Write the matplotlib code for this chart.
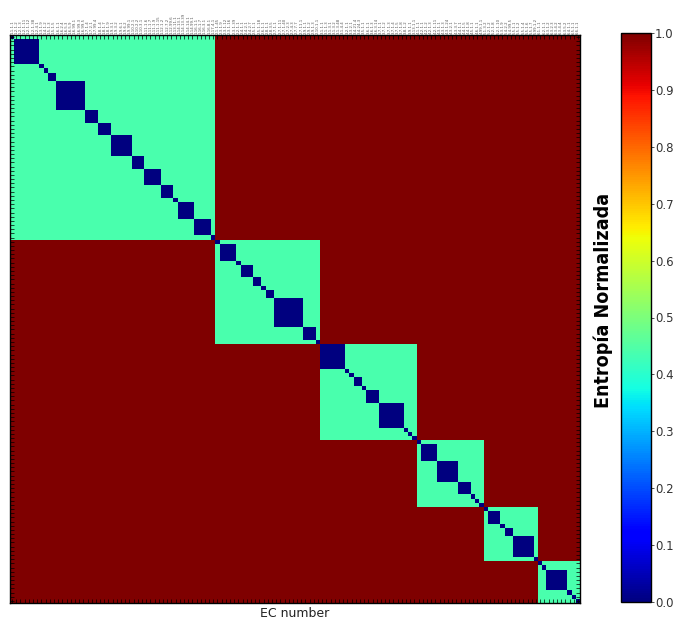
import numpy as np
import matplotlib
matplotlib.use("Agg")
import matplotlib.pyplot as plt

# EC numbers, grouped by main class (order along both axes)
ec_class1 = ["1.1.1.1",
             "1.2.1.2", "1.2.1.3", "1.2.1.11", "1.2.1.12", "1.2.1.38", "1.2.4.1",
             "1.3.1.9",
             "1.4.1.2",
             "1.5.1.3", "1.5.1.5",
             "1.6.1.1", "1.6.2.4", "1.6.5.3", "1.6.5.9", "1.6.99.1", "1.6.99.3", "1.6.99.5",
             "1.7.1.4", "1.7.2.1", "1.7.99.4",
             "1.8.1.4", "1.8.1.7", "1.8.1.9",
             "1.9.3.1", "1.9.3.2", "1.9.6.1", "1.9.6.2", "1.9.99.1",
             "1.10.2.1", "1.10.2.2", "1.10.3.1",
             "1.11.1.6", "1.11.1.7", "1.11.1.9", "1.11.1.15",
             "1.12.1.2", "1.12.7.2", "1.12.99.6",
             "1.13.11.1",
             "1.14.13.1", "1.14.13.39", "1.14.14.1", "1.14.99.1",
             "1.16.1.1", "1.16.1.7", "1.16.3.1", "1.16.8.1",
             "1.17.4.1"]
ec_class2 = ["2.1.1.45",
             "2.3.1.9", "2.3.1.12", "2.3.1.16", "2.3.1.39",
             "2.2.1.1",
             "2.4.1.1", "2.4.2.1", "2.4.2.7",
             "2.5.1.1", "2.5.1.18",
             "2.6.1.1",
             "2.8.1.1", "2.8.3.5",
             "2.7.1.1", "2.7.1.11", "2.7.1.40", "2.7.2.3", "2.7.4.3", "2.7.7.7", "2.7.11.1",
             "2.9.1.1", "2.9.1.2", "2.9.1.3",
             "2.10.1.1"]
ec_class3 = ["3.1.1.1", "3.1.1.3", "3.1.3.1", "3.1.3.2", "3.1.3.48", "3.1.4.4",
             "3.2.1.1",
             "3.3.2.1",
             "3.4.21.4", "3.4.24.3",
             "3.5.1.1",
             "3.6.1.1", "3.6.1.3", "3.6.3.14",
             "3.7.1.1", "3.7.1.2", "3.7.1.3", "3.7.1.4", "3.7.1.5", "3.7.1.8",
             "3.8.1.2",
             "3.9.1.1",
             "3.13.1.1"]
ec_class4 = ["4.1.1.1",
             "4.2.1.1", "4.2.1.2", "4.2.1.3", "4.2.1.11",
             "4.3.1.1", "4.3.1.3", "4.3.1.24", "4.3.2.1", "4.3.3.7",
             "4.4.1.1", "4.4.1.5", "4.4.1.8",
             "4.5.1.1",
             "4.6.1.1",
             "4.99.1.1"]
ec_class5 = ["5.1.3.2",
             "5.2.1.2", "5.2.1.8", "5.2.1.10",
             "5.3.1.9",
             "5.4.2.2", "5.4.99.5",
             "5.5.1.1", "5.5.1.2", "5.5.1.4", "5.5.1.6", "5.5.1.7",
             "5.99.1.2"]
ec_class6 = ["6.1.1.1",
             "6.2.1.1",
             "6.3.1.2", "6.3.2.3", "6.3.4.2", "6.3.4.4", "6.3.5.2",
             "6.4.1.1",
             "6.5.1.1",
             "6.6.1.1"]

# normalized entropy levels
entropy_same_subclass = 0.0
entropy_same_class = 0.44
entropy_other_class = 1.0

ec_numbers = ec_class1 + ec_class2 + ec_class3 + ec_class4 + ec_class5 + ec_class6
n = len(ec_numbers)
main_class = [ec.split(".")[0] for ec in ec_numbers]
sub_class = [".".join(ec.split(".")[:2]) for ec in ec_numbers]

matrix = np.full((n, n), entropy_other_class)
for i in range(n):
    for j in range(n):
        if sub_class[i] == sub_class[j]:
            matrix[i, j] = entropy_same_subclass
        elif main_class[i] == main_class[j]:
            matrix[i, j] = entropy_same_class

W, H = 676, 620
fig = plt.figure(figsize=(W / 100, H / 100), dpi=100)

ax = fig.add_axes([10 / W, 1 - 603 / H, 570 / W, 568 / H])
im = ax.imshow(matrix, cmap="jet", vmin=0, vmax=1, aspect="auto",
               interpolation="nearest")

ax.set_xticks(np.arange(n))
ax.set_yticks(np.arange(n))
ax.set_xticklabels(ec_numbers, rotation=90, fontsize=2.8, color="#555555")
ax.set_yticklabels([])
ax.tick_params(axis="both", which="major", direction="in", length=3, width=0.5,
               top=True, bottom=True, left=True, right=True,
               labeltop=True, labelbottom=False, labelleft=False,
               pad=1, color="black")
for sp in ax.spines.values():
    sp.set_linewidth(1.0)
    sp.set_color("black")
ax.set_xlabel("EC number", fontsize=9, labelpad=3, color="#222222")

cax = fig.add_axes([621 / W, 1 - 602 / H, 30 / W, 569 / H])
cbar = fig.colorbar(im, cax=cax)
cbar.set_ticks(np.linspace(0, 1, 11))
cbar.ax.set_yticklabels([f"{v:.1f}" for v in np.linspace(0, 1, 11)])
cbar.ax.tick_params(labelsize=8.5, length=2, width=0.6, colors="#333333", pad=1)
cbar.outline.set_linewidth(1.0)
cbar.outline.set_edgecolor("black")
cbar.ax.yaxis.set_label_position("left")
cbar.set_label("Entropía Normalizada", fontsize=14, fontweight="bold",
               family=["DejaVu Sans"], fontstretch="condensed")
cbar.ax.yaxis.set_label_coords(-0.27, 0.53)

fig.savefig("out.png", dpi=100)
